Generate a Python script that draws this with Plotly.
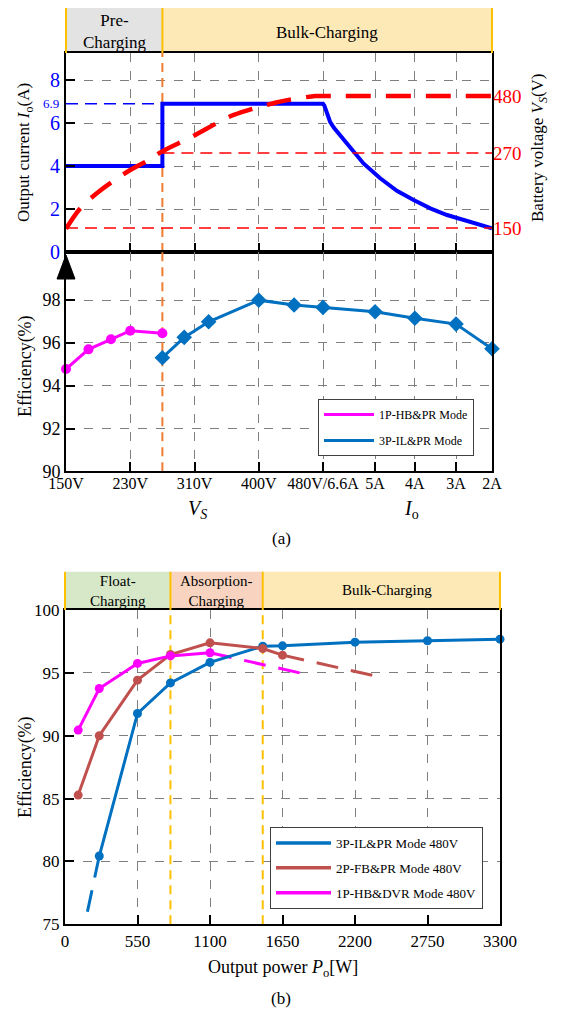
import plotly.graph_objects as go

W, H = 563, 1012
FONT = "Liberation Serif"

# ---------------- Panel (a) data ----------------
# mixed horizontal axis: battery voltage V_S first, then output current I_o
a_tick_pos = [0, 1, 2, 3, 4, 4.81, 5.43, 6.07, 6.63]
a_tick_text = ["150V", "230V", "310V", "400V", "480V/6.6A", "5A", "4A", "3A", "2A"]
a_switch = 1.5            # 270 V : pre-charging -> bulk-charging

# output current I_o (A)
io_x = [0, 1.5, 1.5, 4.0, 4.02, 4.06, 4.11, 4.17, 4.24, 4.37, 4.50, 4.63, 4.89, 5.15, 5.41, 5.67, 5.93, 6.18, 6.44, 6.63]
io_y = [4, 4, 6.9, 6.9, 6.82, 6.45, 6.06, 5.78, 5.52, 5.06, 4.56, 4.12, 3.43, 2.85, 2.42, 2.03, 1.72, 1.49, 1.26, 1.10]
io_max = 6.9

# battery voltage V_S (right axis units)
vs_x = [0, 0.22, 0.48, 0.76, 1.0, 1.31, 1.49, 1.96, 2.60, 3.23, 3.33, 3.88, 4.0, 6.63]
vs_y = [148, 199, 237, 270, 295, 322, 341, 378, 432, 462, 466, 480, 480, 480]
vs_levels = [150, 337.5, 480]
vs_level_text = ["150", "270", "480"]

# efficiency (%)
eff_hb_x = [0, 0.35, 0.70, 1.0, 1.5]
eff_hb_y = [94.78, 95.70, 96.17, 96.57, 96.45]
eff_il_x = [1.5, 1.84, 2.22, 3.0, 3.55, 4.0, 4.81, 5.43, 6.07, 6.63]
eff_il_y = [95.31, 96.26, 96.99, 98.0, 97.77, 97.66, 97.46, 97.15, 96.88, 95.73]

# ---------------- Panel (b) data ----------------
p_ticks = [0, 550, 1100, 1650, 2200, 2750, 3300]
eff_ticks_b = [75, 80, 85, 90, 95, 100]
p_float_end = 800
p_abs_end = 1500

p_il = [260, 550, 800, 1100, 1500, 1650, 2200, 2750, 3300]
e_il = [80.43, 91.77, 94.20, 95.83, 97.12, 97.15, 97.44, 97.55, 97.68]
p_il_ext = [260, 150]
e_il_ext = [80.43, 75.0]

p_fb = [100, 260, 550, 800, 1100, 1500, 1650]
e_fb = [85.28, 90.0, 94.42, 96.46, 97.39, 96.94, 96.41]
p_fb_ext = [1650, 2350]
e_fb_ext = [96.41, 94.76]

p_hb = [100, 260, 550, 800, 1100]
e_hb = [90.45, 93.76, 95.75, 96.35, 96.60]
p_hb_ext = [1100, 1780]
e_hb_ext = [96.60, 95.0]

# ---------------- colours ----------------
BLUE_A = "#0000ff"
RED = "#ff0000"
C_IL = "#0070c0"
C_FB = "#c0504d"
C_HB = "#ff00ff"
GOLD = "#ffc000"
ORANGE = "#ed7d31"
GRID = "#7f7f7f"

# ---------------- layout geometry ----------------
A_X = [66 / W, 492 / W]
A_TOP_Y = [1 - 252 / H, 1 - 53 / H]
A_EFF_Y = [1 - 471.3 / H, 1 - 252 / H]
B_X = [65 / W, 500 / W]
B_Y = [1 - 924.3 / H, 1 - 610 / H]
A_XR = [0, 6.63]
B_XR = [0, 3300]


def py(p):
    return 1 - p / H


def ax_paper(v, dom, rng):
    return dom[0] + (v - rng[0]) / (rng[1] - rng[0]) * (dom[1] - dom[0])


fig = go.Figure()

# top panel: current
fig.add_trace(go.Scatter(x=[0, a_switch], y=[io_max, io_max], mode="lines",
                         line=dict(color=BLUE_A, width=1.5, dash="12px,7px"),
                         xaxis="x", yaxis="y", showlegend=False, hoverinfo="skip"))
fig.add_trace(go.Scatter(x=io_x, y=io_y, mode="lines", line=dict(color=BLUE_A, width=4),
                         xaxis="x", yaxis="y", showlegend=False))
# voltage reference levels
fig.add_trace(go.Scatter(x=[A_XR[0], A_XR[1]], y=[vs_levels[0]] * 2, mode="lines",
                         line=dict(color=RED, width=1.5, dash="12px,7px"),
                         xaxis="x", yaxis="y2", showlegend=False, hoverinfo="skip"))
fig.add_trace(go.Scatter(x=[a_switch, A_XR[1]], y=[vs_levels[1]] * 2, mode="lines",
                         line=dict(color=RED, width=1.5, dash="12px,7px"),
                         xaxis="x", yaxis="y2", showlegend=False, hoverinfo="skip"))
fig.add_trace(go.Scatter(x=vs_x, y=vs_y, mode="lines", line=dict(color=RED, width=4.5, dash="25px,15px", shape="spline"),
                         xaxis="x", yaxis="y2", showlegend=False))

# efficiency (a)
fig.add_trace(go.Scatter(x=eff_hb_x, y=eff_hb_y, mode="lines+markers",
                         line=dict(color=C_HB, width=3), marker=dict(color=C_HB, size=10, symbol="circle"),
                         xaxis="x2", yaxis="y3", showlegend=False, cliponaxis=False))
fig.add_trace(go.Scatter(x=eff_il_x, y=eff_il_y, mode="lines+markers",
                         line=dict(color=C_IL, width=3), marker=dict(color=C_IL, size=12, symbol="diamond"),
                         xaxis="x2", yaxis="y3", showlegend=False, cliponaxis=False))
fig.add_trace(go.Scatter(x=[None], y=[None], mode="lines", name="1P-HB&PR Mode",
                         line=dict(color=C_HB, width=3), xaxis="x2", yaxis="y3",
                         legend="legend", legendgroup="a1"))
fig.add_trace(go.Scatter(x=[None], y=[None], mode="lines", name="3P-IL&PR Mode",
                         line=dict(color=C_IL, width=3), xaxis="x2", yaxis="y3",
                         legend="legend", legendgroup="a2"))

# panel (b)
for px_, ey_, c in [(p_il_ext, e_il_ext, C_IL), (p_fb_ext, e_fb_ext, C_FB), (p_hb_ext, e_hb_ext, C_HB)]:
    fig.add_trace(go.Scatter(x=px_, y=ey_, mode="lines", line=dict(color=c, width=3, dash="22px,13px"),
                             xaxis="x3", yaxis="y4", showlegend=False, hoverinfo="skip"))
for px_, ey_, c in [(p_il, e_il, C_IL), (p_fb, e_fb, C_FB), (p_hb, e_hb, C_HB)]:
    fig.add_trace(go.Scatter(x=px_, y=ey_, mode="lines+markers", line=dict(color=c, width=3),
                             marker=dict(color=c, size=9), xaxis="x3", yaxis="y4", showlegend=False,
                             cliponaxis=False))
for name, c, g in [("3P-IL&PR Mode 480V", C_IL, "b1"), ("2P-FB&PR Mode 480V", C_FB, "b2"),
                   ("1P-HB&DVR Mode 480V", C_HB, "b3")]:
    fig.add_trace(go.Scatter(x=[None], y=[None], mode="lines", name=name, line=dict(color=c, width=3.5),
                             xaxis="x3", yaxis="y4", legend="legend2", legendgroup=g))

axis_common = dict(showline=True, linecolor="black", linewidth=2, mirror=True,
                   ticks="inside", tickcolor="black", tickwidth=2, ticklen=9,
                   showgrid=True, gridcolor=GRID, griddash="dash", gridwidth=1, zeroline=False,
                   automargin=False, tickangle=0,
                   tickfont=dict(family=FONT, size=17, color="black"))

fig.update_layout(
    width=W, height=H, margin=dict(l=0, r=0, t=0, b=0, autoexpand=False),
    paper_bgcolor="white", plot_bgcolor="white",
    font=dict(family=FONT, color="black"),
    xaxis=dict(axis_common, domain=A_X, range=A_XR, anchor="y", tickvals=a_tick_pos,
               showticklabels=False),
    yaxis=dict(axis_common, domain=A_TOP_Y, range=[0, 9.26], anchor="x", tickvals=[0, 2, 4, 6, 8],
               tickfont=dict(family=FONT, size=20, color=BLUE_A)),
    yaxis2=dict(overlaying="y", side="right", anchor="x", range=[90, 587.5], tickvals=vs_levels,
                ticktext=vs_level_text, tickfont=dict(family=FONT, size=19, color=RED),
                showgrid=False, showline=False, ticks="", zeroline=False, automargin=False),
    xaxis2=dict(axis_common, domain=A_X, range=A_XR, anchor="y3", tickvals=a_tick_pos,
                ticktext=a_tick_text, tickfont=dict(family=FONT, size=16, color="black"),
                ticklabelstandoff=-4),
    yaxis3=dict(axis_common, domain=A_EFF_Y, range=[90, 100.25], anchor="x2",
                tickvals=[90, 92, 94, 96, 98], tickfont=dict(family=FONT, size=18, color="black")),
    xaxis3=dict(axis_common, domain=B_X, range=B_XR, anchor="y4", tickvals=p_ticks),
    yaxis4=dict(axis_common, domain=B_Y, range=[75, 100], anchor="x3", tickvals=eff_ticks_b),
    legend=dict(x=318 / W, y=py(399), xanchor="left", yanchor="top", bgcolor="white",
                bordercolor="#404040", borderwidth=1, font=dict(family=FONT, size=12),
                tracegroupgap=7, traceorder="grouped", itemwidth=50),
    legend2=dict(x=270 / W, y=py(827), xanchor="left", yanchor="top", bgcolor="white",
                 bordercolor="#404040", borderwidth=1, font=dict(family=FONT, size=13),
                 tracegroupgap=5, traceorder="grouped", itemwidth=55),
)

shapes = []
# header bands (a)
ha0, ha1 = py(53), py(8)
xs = ax_paper(a_switch, A_X, A_XR)
shapes += [
    dict(type="rect", xref="paper", yref="paper", x0=A_X[0], x1=xs, y0=ha0, y1=ha1,
         fillcolor="#e3e3e3", line=dict(width=0), layer="below"),
    dict(type="rect", xref="paper", yref="paper", x0=xs, x1=A_X[1], y0=ha0, y1=ha1,
         fillcolor="#fde9b5", line=dict(width=0), layer="below"),
]
for xv in [A_X[0], xs, A_X[1]]:
    shapes.append(dict(type="line", xref="paper", yref="paper", x0=xv, x1=xv, y0=ha0, y1=ha1,
                       line=dict(color=GOLD, width=2)))
# orange mode-switch line (a)
shapes.append(dict(type="line", xref="x", yref="y", x0=a_switch, x1=a_switch, y0=0, y1=9.26,
                   line=dict(color=ORANGE, width=2, dash="9px,6px"), layer="between"))
shapes.append(dict(type="line", xref="x2", yref="y3", x0=a_switch, x1=a_switch, y0=90, y1=100.25,
                   line=dict(color=ORANGE, width=2, dash="9px,6px"), layer="between"))
# arrow head at top of efficiency axis
shapes.append(dict(type="path", xref="paper", yref="paper",
                   path=f"M {66/W},{py(255)} L {57/W},{py(279)} L {75/W},{py(279)} Z",
                   fillcolor="black", line=dict(color="black", width=1)))

# header bands (b)
hb0, hb1 = py(610), py(571.7)
xf = ax_paper(p_float_end, B_X, B_XR)
xa = ax_paper(p_abs_end, B_X, B_XR)
for x0, x1, col in [(B_X[0], xf, "#d6e8c8"), (xf, xa, "#f8d4c0"), (xa, B_X[1], "#fde9b5")]:
    shapes.append(dict(type="rect", xref="paper", yref="paper", x0=x0, x1=x1, y0=hb0, y1=hb1,
                       fillcolor=col, line=dict(width=0), layer="below"))
for xv in [B_X[0], xf, xa, B_X[1]]:
    shapes.append(dict(type="line", xref="paper", yref="paper", x0=xv, x1=xv, y0=hb0, y1=hb1,
                       line=dict(color=GOLD, width=2)))
for pv in [p_float_end, p_abs_end]:
    shapes.append(dict(type="line", xref="x3", yref="y4", x0=pv, x1=pv, y0=75, y1=100,
                       line=dict(color=GOLD, width=2, dash="9px,6px"), layer="between"))
fig.update_layout(shapes=shapes)

ann = []


def text(x, y, t, size, color="black", angle=0, xanchor="center", yanchor="middle"):
    ann.append(dict(x=x, y=y, xref="paper", yref="paper", text=t, showarrow=False, textangle=angle,
                    font=dict(family=FONT, size=size, color=color), xanchor=xanchor, yanchor=yanchor))


text((A_X[0] + xs) / 2, py(31), "Pre-<br>Charging", 17)
text((xs + A_X[1]) / 2, py(32), "Bulk-Charging", 17)
text((B_X[0] + xf) / 2, py(591), "Float-<br>Charging", 15)
text((xf + xa) / 2, py(591), "Absorption-<br>Charging", 15)
text(387 / W, py(590), "Bulk-Charging", 15)

ann.append(dict(x=61 / W, y=io_max, xref="paper", yref="y", text="6.9", showarrow=False,
                font=dict(family=FONT, size=13, color=BLUE_A), xanchor="right", yanchor="middle"))
text(25 / W, py(153), "Output current <i>I</i><sub>o</sub>(A)", 17, angle=-90)
text(539 / W, py(148), "Battery voltage <i>V<sub>S</sub></i>(V)", 17, angle=-90)
text(25 / W, py(366), "Efficiency(%)", 18, angle=-90)
text(197 / W, py(509), "<i>V<sub>S</sub></i>", 20)
text(411 / W, py(509), "<i>I</i><sub>o</sub>", 20)
text(281 / W, py(538), "(a)", 17)
text(25 / W, py(767), "Efficiency(%)", 18, angle=-90)
text(283 / W, py(968), "Output power <i>P</i><sub>o</sub>[W]", 18)
text(281 / W, py(998), "(b)", 17)
fig.update_layout(annotations=ann)

fig.write_html("out.html")
